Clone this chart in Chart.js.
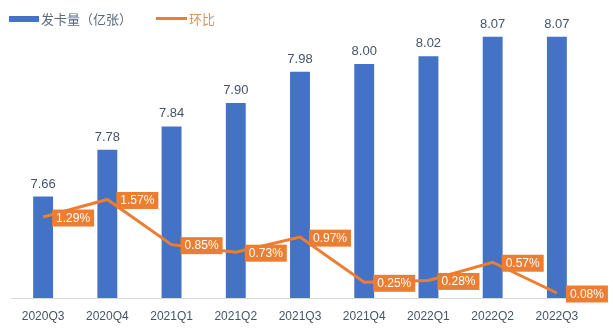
<!DOCTYPE html>
<html>
<head>
<meta charset="utf-8">
<script src="https://cdn.jsdelivr.net/npm/chart.js@4"></script>
<style>
  body { margin: 0; background: #fff; }
  #wrap { width: 613px; height: 330px; }
</style>
</head>
<body>
<div id="wrap"><canvas id="cardChart" width="613" height="330"></canvas></div>
<script>
// quarters on the x axis
var quarters = ['2020Q3', '2020Q4', '2021Q1', '2021Q2', '2021Q3', '2021Q4', '2022Q1', '2022Q2', '2022Q3'];
// cards issued, 100 million
var cardsIssued = [7.66, 7.78, 7.84, 7.90, 7.98, 8.00, 8.02, 8.07, 8.07];
// quarter on quarter growth, percent
var qoqGrowth = [1.29, 1.57, 0.85, 0.73, 0.97, 0.25, 0.28, 0.57, 0.08];
var seriesNames = ['发卡量（亿张）', '环比'];

var BLUE = '#4472C4';
var ORANGE = '#ED7D31';
var SLATE = '#44546A';
var FONT = '"Liberation Sans", "Noto Sans CJK SC", sans-serif';
var CJK_FONT = '"Noto Sans CJK SC", sans-serif';

// value labels: plain text above bars, orange boxes beside line points
var valueLabels = {
    id: 'valueLabels',
    afterDatasetsDraw: function(chart) {
        var ctx = chart.ctx;
        ctx.save();

        var barMeta = chart.getDatasetMeta(0);
        ctx.font = '13px ' + FONT;
        ctx.fillStyle = SLATE;
        ctx.textAlign = 'center';
        ctx.textBaseline = 'bottom';
        barMeta.data.forEach(function(bar, i) {
            ctx.fillText(cardsIssued[i].toFixed(2), bar.x, bar.y - 6);
        });

        var lineMeta = chart.getDatasetMeta(1);
        ctx.font = '12px ' + FONT;
        ctx.textAlign = 'left';
        ctx.textBaseline = 'middle';
        lineMeta.data.forEach(function(pt, i) {
            var txt = qoqGrowth[i].toFixed(2) + '%';
            var w = ctx.measureText(txt).width + 8;
            var h = 17;
            var x = pt.x + 9;
            var y = pt.y - h / 2 + 1;
            ctx.fillStyle = ORANGE;
            ctx.fillRect(x, y, w, h);
            ctx.fillStyle = '#fff';
            ctx.fillText(txt, x + 4, y + h / 2 + 0.5);
        });

        ctx.restore();
    }
};

// legend in the top left corner, drawn by hand to match spacing
var topLegend = {
    id: 'topLegend',
    afterDraw: function(chart) {
        var ctx = chart.ctx;
        ctx.save();
        ctx.font = '13px ' + CJK_FONT;
        ctx.textBaseline = 'middle';
        ctx.textAlign = 'left';

        ctx.fillStyle = BLUE;
        ctx.fillRect(9, 16, 30, 6);
        ctx.fillStyle = '#596A80';
        ctx.fillText(seriesNames[0], 41, 19, 92);

        ctx.fillStyle = ORANGE;
        ctx.fillRect(156, 17, 31, 3);
        ctx.fillStyle = '#D9935E';
        ctx.fillText(seriesNames[1], 189, 19, 28);
        ctx.restore();
    }
};

var ctx = document.getElementById('cardChart').getContext('2d');

new Chart(ctx, {
    type: 'bar',
    data: {
        labels: quarters,
        datasets: [
            {
                label: seriesNames[0],
                data: cardsIssued,
                backgroundColor: BLUE,
                yAxisID: 'y',
                order: 1,
                barPercentage: 0.62,
                categoryPercentage: 0.5
            },
            {
                type: 'line',
                label: seriesNames[1],
                data: qoqGrowth,
                borderColor: ORANGE,
                borderWidth: 3,
                pointRadius: 0,
                tension: 0,
                yAxisID: 'y2',
                order: 0
            }
        ]
    },
    plugins: [valueLabels, topLegend],
    options: {
        responsive: false,
        animation: false,
        layout: { padding: { left: 11, right: 24, top: 25, bottom: 0 } },
        plugins: {
            tooltip: { enabled: false },
            legend: { display: false }
        },
        scales: {
            x: {
                grid: { display: false, drawTicks: false },
                border: { display: true, color: '#D9D9D9', width: 1 },
                ticks: { color: SLATE, font: { family: FONT, size: 12 }, padding: 11 },
                afterFit: function(scale) { scale.height = 32; }
            },
            y: {
                display: false,
                min: 7.4,
                max: 8.1
            },
            y2: {
                display: false,
                position: 'right',
                min: 0,
                max: 4.35
            }
        }
    }
});
</script>
</body>
</html>
